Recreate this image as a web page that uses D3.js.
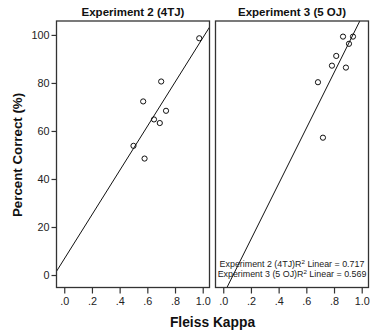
<!DOCTYPE html>
<html>
<head>
<meta charset="utf-8">
<script src="https://cdn.jsdelivr.net/npm/d3@7"></script>
<style>
  body { margin: 0; background: #fff; }
  text { font-family: "Liberation Sans", Arial, sans-serif; }
</style>
</head>
<body>
<div id="chart"></div>
<script>
// panel titles
const panelTitles = ['Experiment 2 (4TJ)', 'Experiment 3 (5 OJ)'];
// Fleiss kappa per item (x) and percent correct (y)
const exp2Kappa = [0.975, 0.70, 0.57, 0.735, 0.648, 0.69, 0.50, 0.58];
const exp2Correct = [98.6, 80.6, 72.3, 68.4, 64.8, 63.3, 53.8, 48.5];
const exp3Kappa = [0.865, 0.937, 0.908, 0.816, 0.785, 0.886, 0.684, 0.720];
const exp3Correct = [99.3, 99.3, 96.3, 91.25, 87.2, 86.4, 80.3, 57.2];
// fit legend
const legendNames = ['Experiment 2 (4TJ)', 'Experiment 3 (5 OJ)'];
const legendR2 = ['0.717', '0.569'];
// ticks
const xTicks = [0, 0.2, 0.4, 0.6, 0.8, 1.0];
const yTicks = [0, 20, 40, 60, 80, 100];

const width = 370, height = 335;
const margin = {top: 21, bottom: 47.5, left: 56.5, right: 1.5};
const gap = 6;
const panelW = (width - margin.left - margin.right - gap) / 2;
const panelH = height - margin.top - margin.bottom;

const svg = d3.select('#chart').append('svg')
    .attr('width', width)
    .attr('height', height);

const y = d3.scaleLinear().domain([-5.2, 105.8]).range([panelH, 0]);
const xFormat = d => d === 1 ? '1.0' : d3.format('.1f')(d).replace(/^0/, '');

// simple least squares fit line for each panel
function fit(xs, ys) {
    const mx = d3.mean(xs), my = d3.mean(ys);
    let sxy = 0, sxx = 0;
    xs.forEach((v, i) => { sxy += (v - mx) * (ys[i] - my); sxx += (v - mx) * (v - mx); });
    const slope = sxy / sxx;
    return {slope: slope, intercept: my - slope * mx};
}

const panels = [
    {kappa: exp2Kappa, correct: exp2Correct},
    {kappa: exp3Kappa, correct: exp3Correct}
];

panels.forEach((p, i) => {
    const x = d3.scaleLinear().domain([-0.056, 1.049]).range([0, panelW]);
    const g = svg.append('g')
        .attr('transform', `translate(${margin.left + i * (panelW + gap)},${margin.top})`);

    g.append('clipPath').attr('id', 'clip' + i)
        .append('rect').attr('width', panelW).attr('height', panelH);

    // x axis
    const xa = g.append('g')
        .attr('transform', `translate(0,${panelH})`)
        .call(d3.axisBottom(x).tickValues(xTicks).tickFormat(xFormat).tickSize(6).tickPadding(4));
    xa.select('.domain').remove();
    xa.selectAll('line').attr('stroke', '#333').attr('stroke-width', 1.2);
    xa.selectAll('text').attr('font-size', 10.8).attr('fill', '#222');

    if (i === 0) {
        const ya = g.append('g')
            .call(d3.axisLeft(y).tickValues(yTicks).tickSize(5).tickPadding(2));
        ya.select('.domain').remove();
        ya.selectAll('line').attr('stroke', '#333').attr('stroke-width', 1.2);
        ya.selectAll('text').attr('font-size', 10.8).attr('fill', '#222');
    }

    // fit line
    const f = fit(p.kappa, p.correct);
    const [x0, x1] = x.domain();
    g.append('line')
        .attr('clip-path', `url(#clip${i})`)
        .attr('x1', x(x0)).attr('y1', y(f.intercept + f.slope * x0))
        .attr('x2', x(x1)).attr('y2', y(f.intercept + f.slope * x1))
        .attr('stroke', '#111').attr('stroke-width', 1);

    // points
    g.selectAll('circle')
        .data(p.kappa.map((k, j) => [k, p.correct[j]]))
        .join('circle')
        .attr('cx', d => x(d[0]))
        .attr('cy', d => y(d[1]))
        .attr('r', 2.6)
        .attr('fill', 'none')
        .attr('stroke', '#111')
        .attr('stroke-width', 1);

    // panel frame
    g.append('rect')
        .attr('width', panelW).attr('height', panelH)
        .attr('fill', 'none').attr('stroke', '#333').attr('stroke-width', 1.3);

    // title
    g.append('text')
        .attr('x', panelW / 2).attr('y', -5)
        .attr('text-anchor', 'middle')
        .attr('font-size', 11.5).attr('font-weight', 'bold')
        .attr('fill', '#111')
        .text(panelTitles[i]);

    // R2 legend, in the second panel
    if (i === 1) {
        legendNames.forEach((name, k) => {
            const t = g.append('text')
                .attr('x', panelW / 2).attr('y', y(0) - 8 + k * 9.5)
                .attr('text-anchor', 'middle')
                .attr('font-size', 8.9).attr('fill', '#222');
            t.append('tspan').text(name + 'R');
            t.append('tspan').attr('font-size', 6.2).attr('dy', -3).text('2');
            t.append('tspan').attr('dy', 3).text('  Linear = ' + legendR2[k]);
        });
    }
});

// axis titles
svg.append('text')
    .attr('transform', `translate(21.5,${margin.top + y(50)}) rotate(-90)`)
    .attr('text-anchor', 'middle')
    .attr('font-size', 13.3).attr('font-weight', 'bold').attr('fill', '#111')
    .text('Percent Correct (%)');

svg.append('text')
    .attr('x', margin.left + (width - margin.left - margin.right) / 2)
    .attr('y', 327)
    .attr('text-anchor', 'middle')
    .attr('font-size', 13.8).attr('font-weight', 'bold').attr('fill', '#111')
    .text('Fleiss Kappa');
</script>
</body>
</html>
